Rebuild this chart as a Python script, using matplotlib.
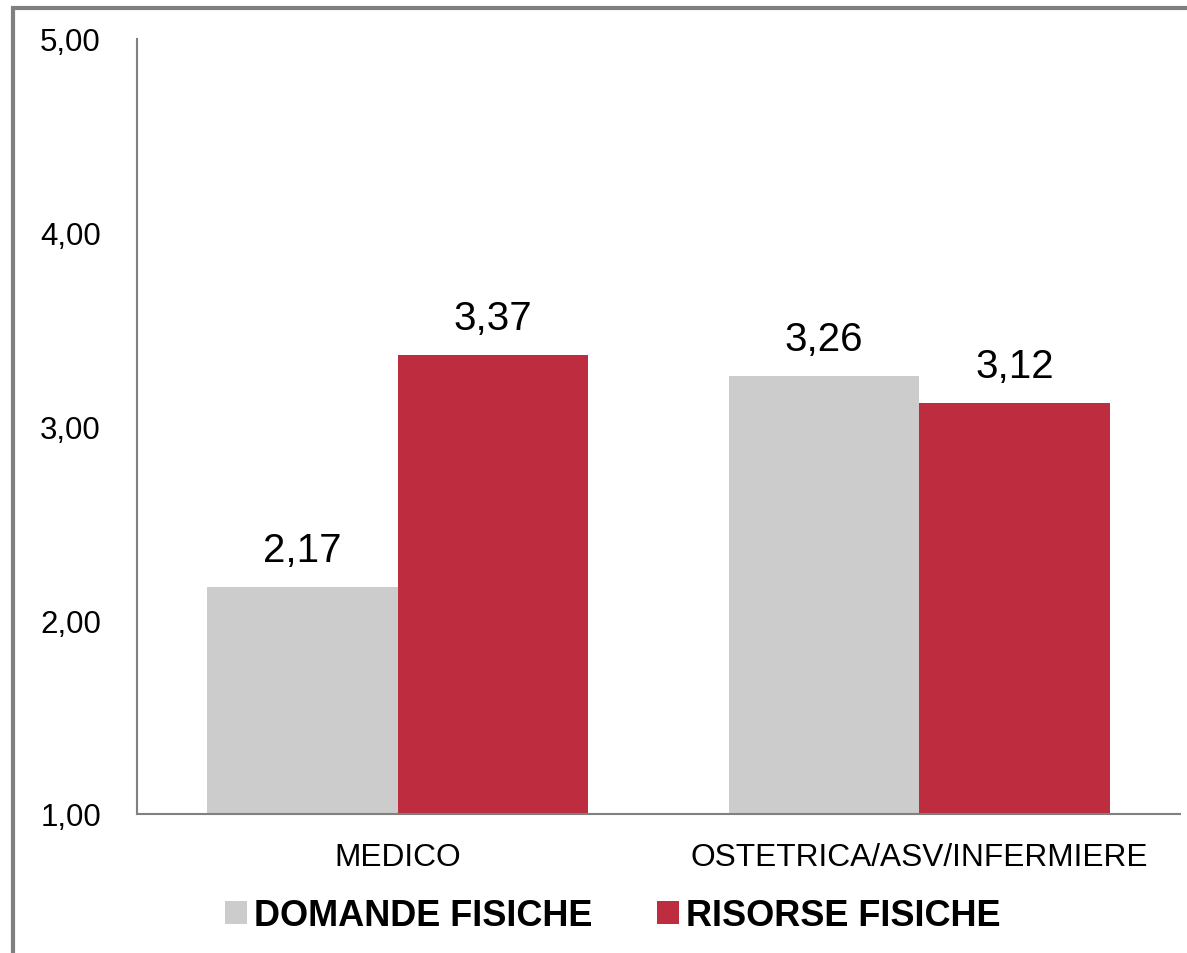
import matplotlib
matplotlib.use("Agg")
import matplotlib.pyplot as plt
import numpy as np
from matplotlib.patches import Rectangle

plt.rcParams['font.family'] = ['Liberation Sans', 'DejaVu Sans']

categories = ["MEDICO", "OSTETRICA/ASV/INFERMIERE"]
series_names = ["DOMANDE FISICHE", "RISORSE FISICHE"]
domande = [2.17, 3.26]
risorse = [3.37, 3.12]
yticks = [1.0, 2.0, 3.0, 4.0, 5.0]
ytick_labels = ["1,00", "2,00", "3,00", "4,00", "5,00"]

colors = ["#CCCCCC", "#BD2D3F"]
W, H = 1187, 954
fig = plt.figure(figsize=(W / 100, H / 100), dpi=100)
ax = fig.add_axes([137 / W, 1 - 815 / H, (1180 - 137) / W, (815 - 40) / H])

x = np.arange(len(categories))
bw = 0.365
b1 = ax.bar(x - bw / 2, domande, width=bw, color=colors[0], label=series_names[0])
b2 = ax.bar(x + bw / 2, risorse, width=bw, color=colors[1], label=series_names[1])

for bars, vals in ((b1, domande), (b2, risorse)):
    for rect, v in zip(bars, vals):
        ax.annotate(f"{v:.2f}".replace(".", ","),
                    (rect.get_x() + rect.get_width() / 2, v),
                    xytext=(0, 13), textcoords="offset points",
                    ha="center", va="bottom", fontsize=29)

ax.set_xlim(-0.5, 1.5)
ax.set_ylim(1, 5)
ax.set_yticks(yticks)
ax.set_yticklabels(ytick_labels, fontsize=22.5)
ax.set_xticks(x)
ax.set_xticklabels(categories, fontsize=22.8)
ax.tick_params(axis="y", length=0, pad=26)
ax.tick_params(axis="x", length=0, pad=20)
for s in ("top", "right"):
    ax.spines[s].set_visible(False)
for s in ("left", "bottom"):
    ax.spines[s].set_color("#808080")
    ax.spines[s].set_linewidth(1.5)

leg = fig.legend(handles=[b1, b2], labels=series_names, loc="center",
                 bbox_to_anchor=(613 / W, 1 - 917 / H), ncol=2, frameon=False,
                 prop={"size": 26, "weight": "bold"}, handlelength=0.6,
                 handleheight=0.6, handletextpad=0.2, columnspacing=1.8)

# figure frame (top and left visible)
fig.patches.append(Rectangle((13 / W, -0.2), 1.5, 1.2 - 9 / H, transform=fig.transFigure,
                             fill=False, edgecolor="#808080", linewidth=3, clip_on=False))

fig.savefig("out.png", dpi=100)
